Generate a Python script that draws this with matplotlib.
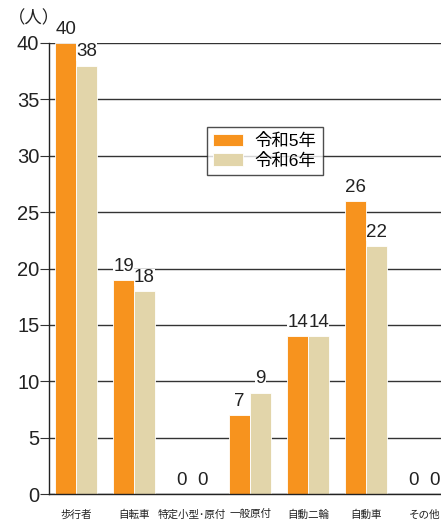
import matplotlib
matplotlib.use("Agg")
import matplotlib.pyplot as plt
import numpy as np

categories = ["歩行者", "自転車", "特定小型･原付", "一般原付", "自動二輪", "自動車", "その他"]
series_names = ["令和5年", "令和6年"]
r5 = [40, 19, 0, 7, 14, 26, 0]
r6 = [38, 18, 0, 9, 14, 22, 0]
yticks = [0, 5, 10, 15, 20, 25, 30, 35, 40]

plt.rcParams['font.family'] = ['Liberation Sans', 'Noto Sans CJK JP', 'DejaVu Sans']

orange = "#F7931E"
beige = "#E2D5AA"

fig = plt.figure(figsize=(4.41, 5.25), dpi=100)
ax = fig.add_axes([49/441, 1 - 494/525, 1 - 49/441, (494 - 43)/525])

x = np.arange(len(categories))
w = 0.36
ax.set_axisbelow(True)
b1 = ax.bar(x - w/2, r5, width=w, color=orange, edgecolor="white", linewidth=0.6, label=series_names[0], zorder=2)
b2 = ax.bar(x + w/2, r6, width=w, color=beige, edgecolor="white", linewidth=0.6, label=series_names[1], zorder=2)

for bars, vals in ((b1, r5), (b2, r6)):
    for rect, v in zip(bars, vals):
        ax.text(rect.get_x() + rect.get_width()/2, v + 0.45, str(v), ha="center", va="bottom",
                fontsize=13.5, color="#222222", zorder=4,
                bbox=dict(facecolor="white", edgecolor="none", pad=0.2))

ax.set_ylim(0, 40)
ax.set_xlim(-0.466, 6.29)
ax.set_yticks(yticks)
ax.set_yticklabels([str(t) for t in yticks], fontsize=14.5, color="#222222")
ax.yaxis.grid(True, color="#333333", linewidth=1.0)
ax.tick_params(axis="y", length=6.5, width=0.8, color="#333333", pad=0.5)
ax.set_xticks(x)
ax.set_xticklabels(categories, fontsize=7.6, color="#222222")
ax.tick_params(axis="x", length=0, pad=11)
for s in ["top", "right"]:
    ax.spines[s].set_visible(False)
ax.spines["left"].set_color("#222222")
ax.spines["bottom"].set_color("#222222")
ax.spines["left"].set_linewidth(1.0)
ax.spines["bottom"].set_linewidth(1.0)

leg = ax.legend(loc="upper left", bbox_to_anchor=((207 - 49)/392, (494 - 127)/451),
                bbox_transform=ax.transAxes, frameon=True, fancybox=False,
                edgecolor="#222222", fontsize=12.5, handlelength=1.7, handleheight=0.75,
                borderpad=0.35, labelspacing=0.2, handletextpad=0.7, borderaxespad=0)
leg.get_frame().set_linewidth(1.0)
leg.set_zorder(5)

fig.text(8/441, 1 - 18/525, "（人）", fontsize=12.5, color="#222222", ha="left", va="center",
         family=['Noto Sans CJK JP', 'DejaVu Sans'])

fig.savefig("out.png", dpi=100)
